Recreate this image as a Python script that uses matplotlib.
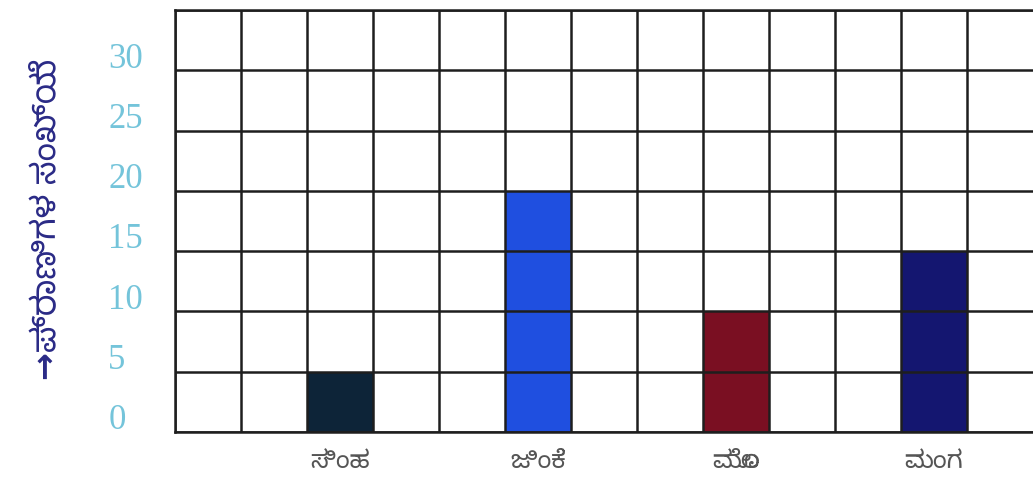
import matplotlib
matplotlib.use("Agg")
import matplotlib.pyplot as plt
from matplotlib.transforms import ScaledTranslation
from matplotlib import font_manager

# Animal counts
animals = ["ಸಿಂಹ", "ಜಿಂಕೆ", "ಮೊಲ", "ಮಂಗ"]
counts = [5, 20, 10, 15]
bar_colors = ["#0d2438", "#1f4fe0", "#7a0f22", "#141670"]
y_ticks = [0, 5, 10, 15, 20, 25, 30]
y_label = "→ಪ್ರಾಣಿಗಳ ಸಂಖ್ಯೆ"

# bars sit in every third grid column
positions = [2.5, 5.5, 8.5, 11.5]

available = {f.name for f in font_manager.fontManager.ttflist}
kn_fonts = [n for n in ["Noto Sans Kannada", "Noto Serif Kannada", "Lohit Kannada",
                        "Tunga", "Kedage", "Mallige"] if n in available]
kn_family = kn_fonts + ["DejaVu Sans"]

fig = plt.figure(figsize=(10.33, 4.98), dpi=100)
ax = fig.add_axes([0.1694, 0.1325, 0.8306, 0.847])

ax.bar(positions, counts, width=1.0, color=bar_colors, zorder=1)

ax.set_xlim(0, 13)
ax.set_ylim(0, 35)

# square-paper grid
for x in range(0, 13):
    ax.axvline(x, color="#1e1e1e", lw=1.8, zorder=2)
for y in range(0, 36, 5):
    ax.axhline(y, color="#1e1e1e", lw=1.8, zorder=2)

for s in ["top", "left", "bottom"]:
    ax.spines[s].set_color("#1e1e1e")
    ax.spines[s].set_linewidth(1.8)
ax.spines["right"].set_visible(False)

ax.set_yticks(y_ticks)
ax.set_yticklabels([str(v) for v in y_ticks], fontsize=25,
                   family="Liberation Serif", color="#74c4da", ha="left")
ax.tick_params(axis="y", length=0, pad=48)
for lbl in ax.get_yticklabels():
    lbl.set_transform(lbl.get_transform() + ScaledTranslation(0, 11 / 72, fig.dpi_scale_trans))

ax.set_xticks(positions)
ax.set_xticklabels(animals, fontsize=18, family=kn_family, color="#555555")
ax.tick_params(axis="x", length=0, pad=12)

fig.text(0.045, 0.56, y_label, rotation=90, ha="center", va="center",
         fontsize=24, fontweight="bold", color="#2a2a86", family=kn_family)

fig.savefig("out.png", dpi=100)
